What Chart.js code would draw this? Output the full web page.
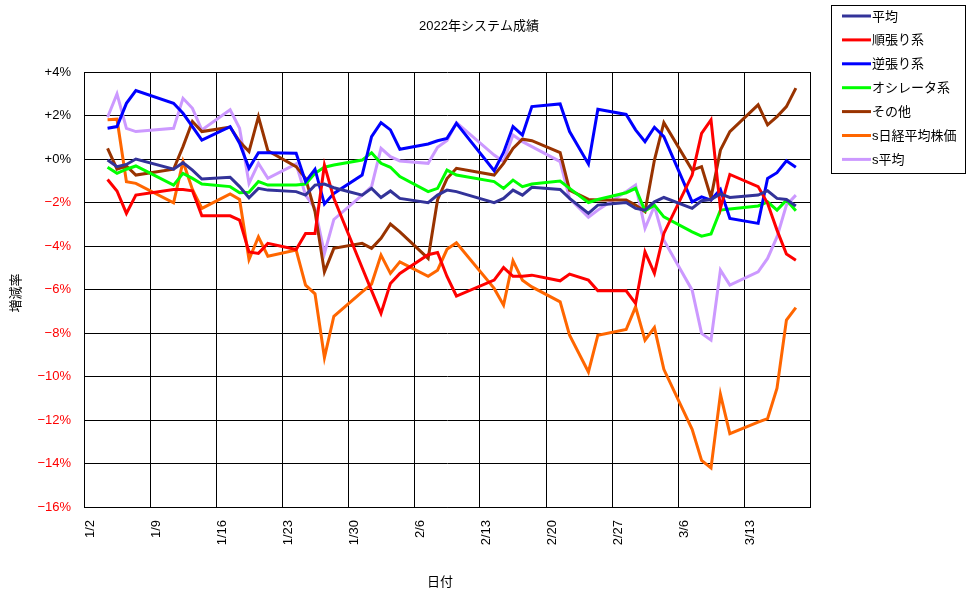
<!DOCTYPE html>
<html>
<head>
<meta charset="utf-8">
<title>2022年システム成績</title>
<script src="https://cdn.jsdelivr.net/npm/chart.js@4.4.0/dist/chart.umd.min.js"></script>
<style>
  html, body { margin: 0; padding: 0; background: #fff; }
  #wrap { width: 976px; height: 599px; }
</style>
</head>
<body>
<div id="wrap"><canvas id="myChart" width="976" height="599"></canvas></div>
<script>
// trading days (2022)
const dates = ["1/4","1/5","1/6","1/7","1/11","1/12","1/13","1/14","1/17","1/18","1/19","1/20","1/21",
  "1/24","1/25","1/26","1/27","1/28","1/31","2/1","2/2","2/3","2/4","2/7","2/8","2/9","2/10",
  "2/14","2/15","2/16","2/17","2/18","2/21","2/22","2/24","2/25","2/28","3/1","3/2","3/3","3/4",
  "3/7","3/8","3/9","3/10","3/11","3/14","3/15","3/16","3/17","3/18"];

const heikin = [-0.05,-0.35,-0.25,0.0,-0.47,-0.17,-0.51,-0.92,-0.84,-1.27,-1.78,-1.35,-1.43,
  -1.5,-1.66,-1.2,-1.15,-1.32,-1.66,-1.35,-1.77,-1.47,-1.81,-2.01,-1.66,-1.43,-1.5,
  -2.01,-1.81,-1.43,-1.66,-1.3,-1.4,-1.81,-2.5,-2.12,-2.0,-2.27,-2.35,-1.97,-1.77,
  -2.27,-1.92,-1.86,-1.61,-1.77,-1.66,-1.46,-1.81,-1.86,-2.16];
const junbari = [-0.94,-1.47,-2.5,-1.66,-1.4,-1.4,-1.46,-2.61,-2.61,-2.81,-4.27,-4.34,-3.88,
  -4.16,-3.42,-3.42,-0.28,-1.81,-5.0,-6.05,-7.1,-5.72,-5.26,-4.4,-4.3,-5.4,-6.3,
  -5.57,-4.99,-5.39,-5.39,-5.34,-5.6,-5.29,-5.57,-6.06,-6.06,-6.64,-4.27,-5.26,-3.42,
  -0.74,1.18,1.8,-2.27,-0.71,-1.27,-2.04,-3.27,-4.37,-4.65];
const gyakubari = [1.41,1.49,2.56,3.15,2.56,2.1,1.49,0.87,1.49,0.72,-0.43,0.29,0.29,
  0.26,-1.04,-0.47,-2.07,-1.58,-0.74,1.03,1.67,1.34,0.45,0.69,0.84,0.95,1.64,
  -0.54,0.3,1.49,1.1,2.41,2.53,1.26,-0.23,2.29,2.05,1.34,0.8,1.46,1.03,
  -1.97,-1.74,-1.89,-1.4,-2.73,-2.96,-0.89,-0.63,-0.08,-0.38];
const oscillator = [-0.38,-0.66,-0.47,-0.32,-1.2,-0.66,-0.89,-1.15,-1.27,-1.55,-1.53,-1.04,-1.2,
  -1.2,-1.15,-0.66,-0.38,-0.28,-0.05,0.29,-0.2,-0.38,-0.81,-1.5,-1.35,-0.51,-0.74,
  -1.04,-1.35,-0.97,-1.27,-1.15,-1.01,-1.35,-2.0,-1.86,-1.55,-1.35,-2.38,-2.12,-2.66,
  -3.35,-3.55,-3.45,-2.35,-2.3,-2.16,-1.97,-2.35,-1.89,-2.38];
const sonota = [0.49,-0.47,-0.32,-0.74,-0.47,0.57,1.72,1.26,1.46,0.8,0.34,1.95,0.38,
  -0.35,-0.89,-2.42,-5.19,-4.11,-3.88,-4.11,-3.65,-2.99,-3.35,-4.57,-1.87,-0.9,-0.43,
  -0.74,-0.2,0.49,0.91,0.84,0.29,-1.43,-1.86,-1.89,-1.88,-2.12,-2.42,-0.05,1.67,
  -0.51,-0.35,-1.77,0.41,1.26,2.49,1.57,1.95,2.41,3.26];
const nikkei = [1.8,1.83,-1.04,-1.12,-2.01,-0.12,-1.4,-2.27,-1.61,-1.86,-4.62,-3.58,-4.47,
  -4.19,-5.8,-6.2,-9.13,-7.23,-6.11,-5.75,-4.42,-5.26,-4.73,-5.39,-5.11,-4.15,-3.85,
  -5.95,-6.72,-4.68,-5.57,-5.88,-6.57,-8.1,-9.79,-8.1,-7.84,-6.8,-8.33,-7.75,-9.67,
  -12.43,-13.86,-14.2,-10.82,-12.63,-12.1,-11.94,-10.54,-7.41,-6.83];
const sHeikin = [1.92,2.99,1.41,1.26,1.41,2.79,2.33,1.33,2.26,1.41,-1.12,-0.2,-0.89,
  -0.23,-1.66,-2.27,-4.34,-2.78,-1.66,-1.27,0.49,0.11,-0.09,-0.2,0.54,0.85,1.67,
  0.18,-0.12,1.1,0.8,0.57,-0.12,-1.81,-2.68,-2.35,-1.5,-1.2,-3.19,-2.16,-3.73,
  -6.03,-8.02,-8.33,-5.11,-5.8,-5.19,-4.57,-3.58,-2.12,-1.66];

const seriesNames = ["平均","順張り系","逆張り系","オシレータ系","その他","s日経平均株価","s平均"];
const seriesColors = ["#333399","#FF0000","#0000FF","#00FF00","#993300","#FF6600","#CC99FF"];
const yTicks = [4,2,0,-2,-4,-6,-8,-10,-12,-14,-16];

const FONT = '"Liberation Sans", "Noto Sans CJK JP", sans-serif';

// days since 1/2, plus half a day (points sit in the middle of the day)
function dayPos(s) {
  const [m, d] = s.split("/").map(Number);
  const t = new Date(2022, m - 1, d) - new Date(2022, 0, 2);
  return Math.round(t / 86400000) + 0.5;
}
function dayLabel(v) {
  const dt = new Date(2022, 0, 2 + v);
  return (dt.getMonth() + 1) + "/" + dt.getDate();
}

const allSeries = [heikin, junbari, gyakubari, oscillator, sonota, nikkei, sHeikin];
const datasets = allSeries.map((vals, i) => ({
  label: seriesNames[i],
  data: vals.map((v, j) => ({ x: dayPos(dates[j]), y: v })),
  borderColor: seriesColors[i],
  backgroundColor: seriesColors[i],
  borderWidth: 3,
  pointRadius: 0,
  tension: 0,
  fill: false
}));

// title, axis titles and boxed legend like the excel chart
const extras = {
  id: "extras",
  afterDraw(chart) {
    const ctx = chart.ctx;
    ctx.save();
    ctx.fillStyle = "#000";
    ctx.font = "13px " + FONT;
    ctx.textBaseline = "middle";
    ctx.textAlign = "left";
    ctx.fillText("2022年システム成績", 419, 26);

    ctx.textAlign = "center";
    ctx.fillText("日付", 440, 582);
    ctx.save();
    ctx.translate(16, 293);
    ctx.rotate(-Math.PI / 2);
    ctx.fillText("増減率", 0, 0);
    ctx.restore();

    // legend
    ctx.strokeStyle = "#000";
    ctx.lineWidth = 1;
    ctx.strokeRect(831.5, 5.5, 134, 168);
    ctx.textAlign = "left";
    chart.data.datasets.forEach((ds, i) => {
      const y = 16 + i * 23.9;
      ctx.strokeStyle = ds.borderColor;
      ctx.lineWidth = 3;
      ctx.beginPath();
      ctx.moveTo(842, y);
      ctx.lineTo(871, y);
      ctx.stroke();
      ctx.fillStyle = "#000";
      ctx.fillText(ds.label, 872, y + 1);
    });
    ctx.restore();
  }
};

new Chart(document.getElementById("myChart"), {
  type: "line",
  data: { datasets: datasets },
  options: {
    responsive: false,
    animation: false,
    devicePixelRatio: 1,
    layout: { padding: { left: 0, top: 72, right: 166, bottom: 0 } },
    plugins: {
      legend: { display: false },
      title: { display: false },
      tooltip: { enabled: false }
    },
    scales: {
      x: {
        type: "linear",
        min: 0,
        max: 77,
        afterFit(scale) { scale.height = 92; },
        afterBuildTicks(scale) {
          const t = [];
          for (let v = 0; v <= 77; v += 7) t.push({ value: v });
          scale.ticks = t;
        },
        grid: { color: "#000", lineWidth: 1, drawTicks: false },
        border: { color: "#000", width: 1 },
        ticks: {
          color: "#000",
          font: { family: FONT, size: 13 },
          padding: 13,
          labelOffset: 6,
          minRotation: 90,
          maxRotation: 90,
          autoSkip: false,
          callback: (v) => (v >= 77 ? "" : dayLabel(v))
        }
      },
      y: {
        min: yTicks[yTicks.length - 1],
        max: yTicks[0],
        afterFit(scale) { scale.width = 84; },
        afterBuildTicks(scale) {
          scale.ticks = yTicks.map(v => ({ value: v }));
        },
        grid: { color: "#000", lineWidth: 1, drawTicks: false },
        border: { color: "#000", width: 1 },
        ticks: {
          font: { family: FONT, size: 13 },
          padding: 13,
          color: (c) => (c.tick && c.tick.value < 0 ? "#FF0000" : "#000"),
          callback: (v) => (v >= 0 ? "+" + v + "%" : "\u2212" + Math.abs(v) + "%")
        }
      }
    }
  },
  plugins: [extras]
});
</script>
</body>
</html>
